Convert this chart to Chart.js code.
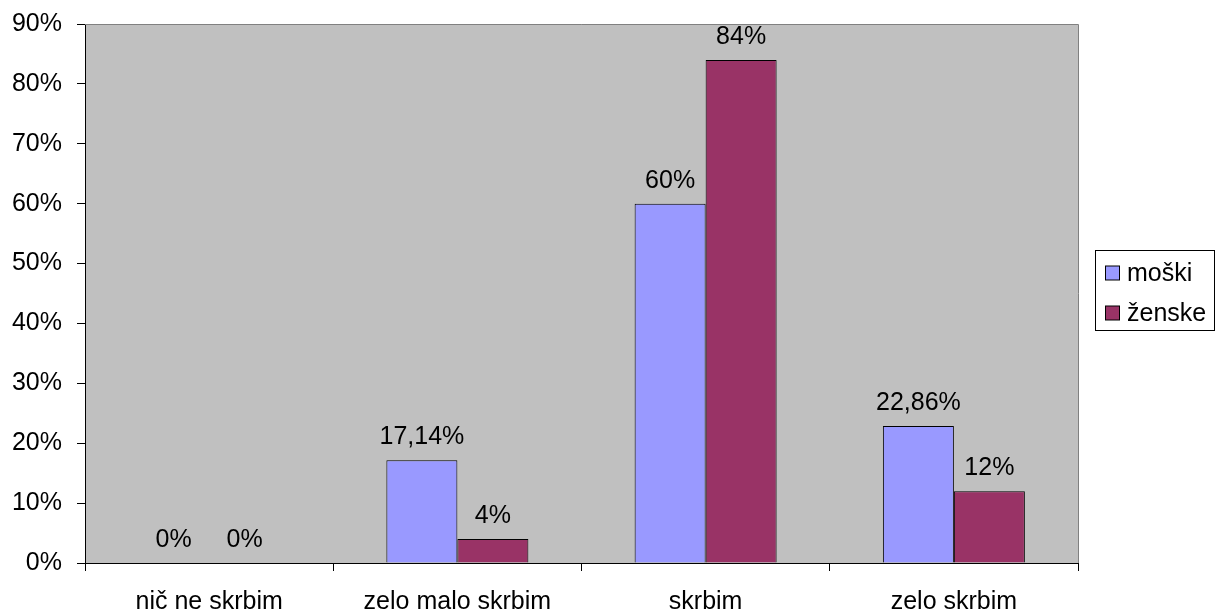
<!DOCTYPE html>
<html>
<head>
<meta charset="utf-8">
<script src="https://cdn.jsdelivr.net/npm/chart.js@4.4.0/dist/chart.umd.min.js"></script>
<style>
  html, body { margin: 0; padding: 0; background: #ffffff; }
  #wrap { width: 1216px; height: 612px; }
</style>
</head>
<body>
<div id="wrap"><canvas id="c" width="1216" height="612"></canvas></div>
<script>
// Survey answers: how much do respondents worry, split by gender
const categories = ['nič ne skrbim', 'zelo malo skrbim', 'skrbim', 'zelo skrbim'];
const moski = [0, 17.14, 60, 22.86];
const zenske = [0, 4, 84, 12];
const seriesNames = ['moški', 'ženske'];
const yTicks = [0, 10, 20, 30, 40, 50, 60, 70, 80, 90];

const FONT = "'Liberation Sans', Arial, sans-serif";
const FS = 25;

const fmtPct = v => String(v).replace('.', ',') + '%';

// grey plot background with a thin grey frame on top/right
const plotFrame = {
  id: 'plotFrame',
  beforeDraw(chart) {
    const a = chart.chartArea, ctx = chart.ctx;
    ctx.save();
    ctx.fillStyle = '#C0C0C0';
    ctx.fillRect(a.left, a.top, a.right - a.left, a.bottom - a.top);
    ctx.restore();
  },
  afterDraw(chart) {
    const a = chart.chartArea, ctx = chart.ctx;
    ctx.save();
    ctx.strokeStyle = '#808080';
    ctx.lineWidth = 1;
    ctx.beginPath();
    ctx.moveTo(a.left, Math.round(a.top) + 0.5);
    ctx.lineTo(Math.round(a.right) + 0.5, Math.round(a.top) + 0.5);
    ctx.lineTo(Math.round(a.right) + 0.5, a.bottom);
    ctx.stroke();
    ctx.restore();
  }
};

// value labels above each bar
const valueLabels = {
  id: 'valueLabels',
  afterDatasetsDraw(chart) {
    const ctx = chart.ctx;
    ctx.save();
    ctx.font = FS + 'px ' + FONT;
    ctx.fillStyle = '#000';
    ctx.textAlign = 'center';
    ctx.textBaseline = 'middle';
    chart.data.datasets.forEach((ds, i) => {
      chart.getDatasetMeta(i).data.forEach((el, j) => {
        ctx.fillText(fmtPct(ds.data[j]), el.x, el.y - 23);
      });
    });
    ctx.restore();
  }
};

// boxed legend on the right
const boxLegend = {
  id: 'boxLegend',
  afterDraw(chart) {
    const ctx = chart.ctx;
    const bx = 1095.5, by = 250.5, bw = 119, bh = 80;
    ctx.save();
    ctx.fillStyle = '#fff';
    ctx.fillRect(bx, by, bw, bh);
    ctx.strokeStyle = '#000';
    ctx.lineWidth = 1;
    ctx.strokeRect(bx, by, bw, bh);
    ctx.font = FS + 'px ' + FONT;
    ctx.textAlign = 'left';
    ctx.textBaseline = 'middle';
    chart.data.datasets.forEach((ds, i) => {
      const cy = 273 + i * 40;
      ctx.fillStyle = ds.backgroundColor;
      ctx.fillRect(1105.5, cy - 7, 14, 14);
      ctx.strokeRect(1105.5, cy - 7, 14, 14);
      ctx.fillStyle = '#000';
      ctx.fillText(ds.label, 1127, cy + 1);
    });
    ctx.restore();
  }
};

new Chart(document.getElementById('c'), {
  type: 'bar',
  data: {
    labels: categories,
    datasets: [
      { label: seriesNames[0], data: moski, backgroundColor: '#9999FF', borderColor: '#000', borderWidth: 1 },
      { label: seriesNames[1], data: zenske, backgroundColor: '#993366', borderColor: '#000', borderWidth: 1 }
    ]
  },
  options: {
    responsive: false,
    animation: false,
    devicePixelRatio: 1,
    categoryPercentage: 0.572,
    barPercentage: 1,
    layout: { padding: { top: 24, right: 138, bottom: 0, left: 0 } },
    plugins: {
      legend: { display: false },
      tooltip: { enabled: false }
    },
    scales: {
      x: {
        offset: true,
        grid: { display: true, offset: true, drawOnChartArea: false, drawTicks: true, tickLength: 8, color: '#000' },
        border: { display: true, color: '#000' },
        ticks: { color: '#000', font: { family: FONT, size: FS }, padding: 16, maxRotation: 0 },
        afterFit(s) { s.height = 49; s.paddingLeft = 0; s.paddingRight = 0; }
      },
      y: {
        min: 0,
        max: 90,
        afterBuildTicks(s) { s.ticks = yTicks.map(v => ({ value: v })); },
        grid: { display: true, drawOnChartArea: false, drawTicks: true, tickLength: 8, color: '#000' },
        border: { display: true, color: '#000' },
        ticks: { color: '#000', font: { family: FONT, size: FS }, padding: 15, callback: v => v + '%' },
        afterFit(s) { s.width = 85; s.paddingTop = 0; s.paddingBottom = 0; }
      }
    }
  },
  plugins: [plotFrame, valueLabels, boxLegend]
});
</script>
</body>
</html>
